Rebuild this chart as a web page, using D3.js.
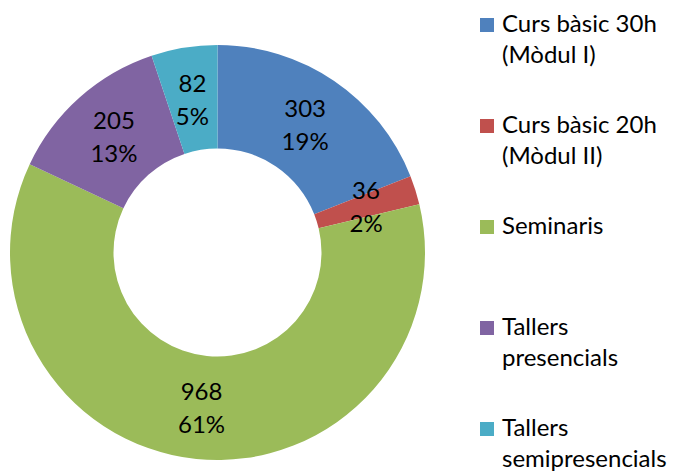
<!DOCTYPE html>
<html>
<head>
<meta charset="utf-8">
<script src="https://cdn.jsdelivr.net/npm/d3@7"></script>
<style>
  body { margin: 0; background: #fff; }
  svg text { font-family: Lato, "Open Sans", sans-serif; fill: #000; }
</style>
</head>
<body>
<div id="chart"></div>
<script>
// Chart data
const categories = [
  ['Curs bàsic 30h', '(Mòdul I)'],
  ['Curs bàsic 20h', '(Mòdul II)'],
  ['Seminaris'],
  ['Tallers', 'presencials'],
  ['Tallers', 'semipresencials']
];
const values = [303, 36, 968, 205, 82];
const colors = ['#4F81BD', '#C0504D', '#9BBB59', '#8064A2', '#4BACC6'];

const width = 676, height = 471;
const cx = 217.5, cy = 252.5;
const outerR = 207.5, innerR = 104;

const svg = d3.select('#chart')
  .append('svg')
  .attr('width', width)
  .attr('height', height);

const total = d3.sum(values);

// Pie layout, clockwise from 12 o'clock, in data order
const pie = d3.pie().sort(null).value(d => d.value);
const arcs = pie(values.map((v, i) => ({ value: v, i })));

const arc = d3.arc().innerRadius(innerR).outerRadius(outerR);

const g = svg.append('g').attr('transform', `translate(${cx},${cy})`);

g.selectAll('path')
  .data(arcs)
  .enter()
  .append('path')
  .attr('d', arc)
  .attr('fill', d => colors[d.data.i]);

// Data labels: value and percentage
const labels = g.selectAll('text.label')
  .data(arcs)
  .enter()
  .append('text')
  .attr('class', 'label')
  .attr('text-anchor', 'middle')
  .style('font-size', '24px')
  .attr('transform', d => `translate(${arc.centroid(d)})`);

labels.append('tspan')
  .attr('x', 0)
  .attr('y', -7)
  .text(d => d.data.value);

labels.append('tspan')
  .attr('x', 0)
  .attr('y', 26)
  .text(d => Math.round(d.data.value / total * 100) + '%');

// Legend
const legendY = d3.scalePoint()
  .domain(d3.range(categories.length))
  .range([18, 422]);

const legend = svg.selectAll('g.legend')
  .data(categories)
  .enter()
  .append('g')
  .attr('class', 'legend')
  .attr('transform', (d, i) => `translate(480,${legendY(i)})`);

legend.append('rect')
  .attr('width', 14)
  .attr('height', 14)
  .attr('fill', (d, i) => colors[i]);

legend.append('text')
  .style('font-size', '24px')
  .selectAll('tspan')
  .data(d => d)
  .enter()
  .append('tspan')
  .attr('x', 22)
  .attr('y', (d, j) => 14 + j * 31)
  .text(d => d);
</script>
</body>
</html>
